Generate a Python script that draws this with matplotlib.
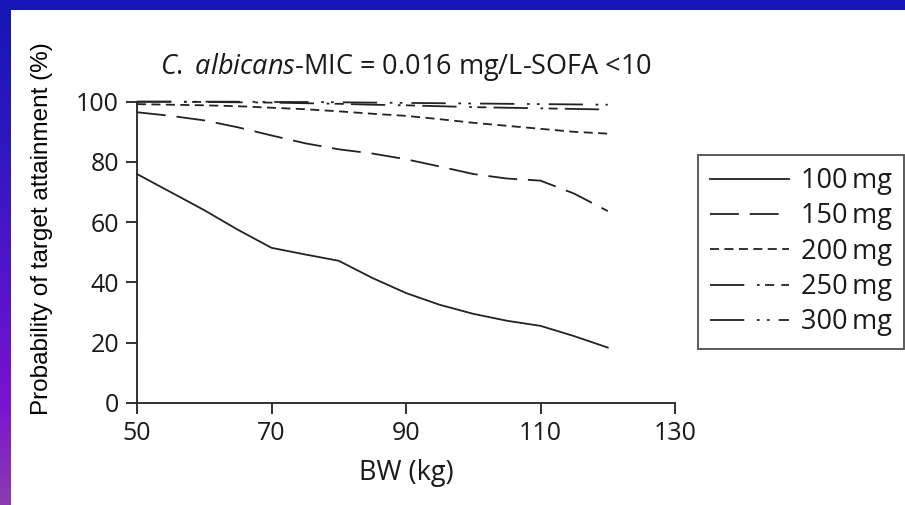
import numpy as np
import matplotlib
matplotlib.use("Agg")
import matplotlib.pyplot as plt
from matplotlib.patches import Rectangle

# --- values ---
bw = [50, 55, 60, 65, 70, 75, 80, 85, 90, 95, 100, 105, 110, 115, 120]
pta_100 = [76.0, 70.0, 64.0, 57.5, 51.5, 49.3, 47.2, 41.5, 36.5, 32.6, 29.6, 27.3, 25.6, 22.2, 18.4]
pta_150 = [96.5, 95.3, 93.8, 91.5, 88.8, 86.2, 84.2, 82.8, 80.9, 78.5, 76.0, 74.5, 73.8, 69.5, 63.7]
pta_200 = [99.2, 99.0, 98.8, 98.5, 98.0, 97.5, 96.8, 96.0, 95.3, 94.2, 93.0, 92.0, 91.0, 90.0, 89.4]
pta_250 = [100.0, 100.0, 99.9, 99.8, 99.7, 99.5, 99.3, 99.0, 98.8, 98.5, 98.2, 98.0, 97.8, 97.6, 97.4]
pta_300 = [100.0, 100.0, 100.0, 100.0, 99.9, 99.9, 99.8, 99.7, 99.6, 99.5, 99.4, 99.3, 99.2, 99.1, 99.0]

dose_labels = ["100\u2009mg", "150\u2009mg", "200\u2009mg", "250\u2009mg", "300\u2009mg"]
x_ticks = [50, 70, 90, 110, 130]
y_ticks = [0, 20, 40, 60, 80, 100]

FONT = "Open Sans"
plt.rcParams["font.family"] = [FONT, "DejaVu Sans"]
plt.rcParams["mathtext.fontset"] = "custom"
plt.rcParams["mathtext.rm"] = FONT
plt.rcParams["mathtext.it"] = FONT + ":italic"

W, H = 905, 505
fig = plt.figure(figsize=(W / 100, H / 100), dpi=100)
fig.patch.set_facecolor("white")

# slide-like frame: blue top band, blue->purple band on the left
bg = fig.add_axes([0, 0, 1, 1], zorder=-5)
bg.set_xlim(0, W)
bg.set_ylim(H, 0)
bg.axis("off")
stops = [0, 150, 300, 400, 505]
cols = np.array([[0x15, 0x15, 0xB5], [0x30, 0x18, 0xC0], [0x5A, 0x14, 0xCC],
                 [0x7A, 0x12, 0xD0], [0x8C, 0x3C, 0xB0]]) / 255.0
yy = np.arange(H)
grad = np.stack([np.interp(yy, stops, cols[:, k]) for k in range(3)], axis=-1)[:, None, :]
bg.imshow(grad, extent=(0, 10, H, 0), aspect="auto")
bg.add_patch(Rectangle((0, 0), W, 10, color="#1616B6", lw=0))

# main axes
ax = fig.add_axes([137 / W, (H - 403) / H, (675 - 137) / W, (403 - 101.7) / H])
ax.set_xlim(50, 130)
ax.set_ylim(0, 100)

line_kw = dict(color="#222222", lw=1.3, clip_on=False)
ax.plot(bw, pta_100, linestyle="-", label=dose_labels[0], **line_kw)
ax.plot(bw, pta_150, linestyle=(0, (16, 6)), label=dose_labels[1], **line_kw)
ax.plot(bw, pta_200, linestyle=(0, (5, 3)), label=dose_labels[2], **line_kw)
ax.plot(bw, pta_250, linestyle=(0, (19, 7, 1.5, 3, 5, 4)), label=dose_labels[3], **line_kw)
ax.plot(bw, pta_300, linestyle=(0, (19, 7, 1.5, 4, 1.5, 5)), label=dose_labels[4], **line_kw)

for side in ("top", "right"):
    ax.spines[side].set_visible(False)
for side in ("left", "bottom"):
    ax.spines[side].set_linewidth(1.3)
    ax.spines[side].set_color("#222222")

ax.set_xticks(x_ticks)
ax.set_yticks(y_ticks)
ax.tick_params(direction="out", length=8, width=1.3, color="#222222",
               labelsize=18, labelcolor="#1a1a1a", pad=5)

ax.set_title(r"$\mathit{C.}$ $\mathit{albicans}$-MIC = 0.016 mg/L-SOFA <10",
             fontsize=19.5, color="#1a1a1a", pad=20)
ax.set_xlabel("BW (kg)", fontsize=19.5, color="#1a1a1a", labelpad=9)
fig.text(42 / W, (H - 229) / H, "Probability of target attainment (%)",
         rotation=90, ha="center", va="center", fontsize=17.5,
         family="Liberation Sans", color="black")

leg = ax.legend(loc="upper left", bbox_to_anchor=(698 / W, (H - 155) / H),
                bbox_transform=fig.transFigure, frameon=True, fancybox=False,
                fontsize=19.5, handlelength=2.9, handletextpad=0.45,
                labelspacing=0.27, borderpad=0.45, borderaxespad=0)
leg.get_frame().set_edgecolor("#222222")
leg.get_frame().set_linewidth(1.3)
for t in leg.get_texts():
    t.set_color("#1a1a1a")

fig.savefig("out.png", dpi=100, facecolor=fig.get_facecolor())
